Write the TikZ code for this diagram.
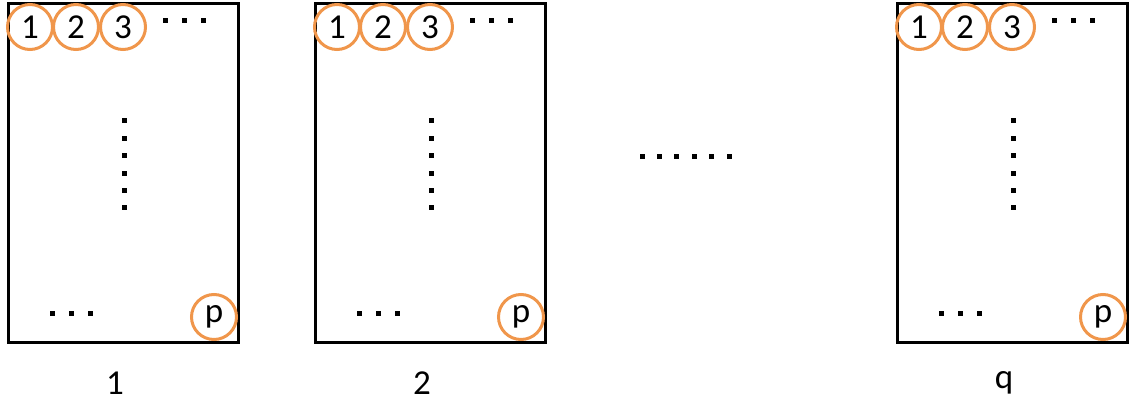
\documentclass[tikz,border=0pt]{standalone}
\usepackage{fontspec}
\setmainfont{Carlito}
\definecolor{ring}{RGB}{240,150,75}
\begin{document}
\begin{tikzpicture}[x=1pt,y=1pt,
  frame/.style={draw=black,line width=3pt,minimum width=230pt,minimum height=339pt,inner sep=0pt,anchor=north west},
  ball/.style={circle,draw=ring,line width=3pt,minimum size=45pt,inner sep=0pt,font=\fontsize{35}{40}\selectfont},
  dotsq/.style={fill=black,minimum size=5pt,inner sep=0pt},
  lab/.style={font=\fontsize{35}{40}\selectfont}]
\useasboundingbox (0,0) rectangle (1135,-406);
\foreach \L/\n/\t in {7/a/1,314/b/2,896/c/q}{
  \node[frame] (box\n) at (\L,-2) {};
  \node[ball] (c1\n) at (\L+23,-27) {1};
  \node[ball] (c2\n) at (\L+69,-27) {2};
  \node[ball] (c3\n) at (\L+116,-27) {3};
  \node[ball] (cp\n) at (\L+207,-317) {p};
  \foreach \k/\dx in {1/158,2/177,3/196}{
    \node[dotsq] (t\k\n) at (\L+\dx,-21) {};
    \node[dotsq] (b\k\n) at (\L+\dx-113,-313) {};
  }
  \foreach \k in {0,...,5}{
    \node[dotsq] (v\k\n) at (\L+117,-121-17.4*\k) {};
  }
  \node[lab] (lab\n) at (\L+108,-383) {\t};
}
\foreach \k in {0,...,5}{
  \node[dotsq] (m\k) at (642+17.4*\k,-157) {};
}
\end{tikzpicture}
\end{document}
